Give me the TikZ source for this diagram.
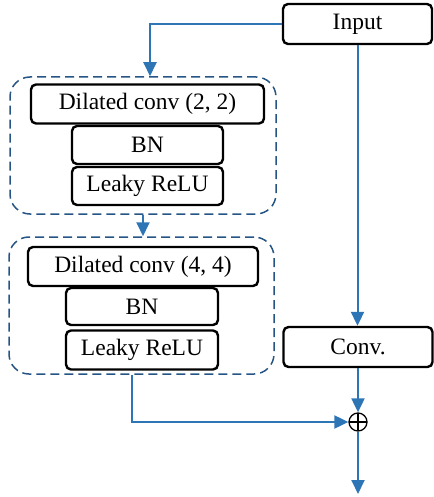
\documentclass[tikz,border=0pt]{standalone}
\usepackage{fontspec}
\setmainfont{Liberation Serif}
\usetikzlibrary{arrows.meta}
\definecolor{lineblue}{RGB}{46,117,182}
\definecolor{dashblue}{RGB}{38,84,132}
\begin{document}
\begin{tikzpicture}[x=1pt, y=-1pt,
  blk/.style={draw, line width=2.4pt, rounded corners=5pt, inner sep=0pt,
              minimum height=39pt, font=\fontsize{23.5}{28}\selectfont},
  grp/.style={draw=dashblue, dashed, dash pattern=on 9pt off 5pt, line width=1.5pt,
              rounded corners=20pt, inner sep=0pt},
  flow/.style={draw=lineblue, line width=2pt, -{Triangle[length=14pt, width=13pt]}}]
  \useasboundingbox (0,0) rectangle (433,497);
  % dilated block 1
  \node[grp, minimum width=266pt, minimum height=137pt] (grpa) at (143,145.5) {};
  \node[blk, minimum width=233pt] (dila) at (147.5,104) {Dilated conv (2, 2)};
  \node[blk, minimum width=151pt, minimum height=38pt] (bna) at (147.5,145) {BN};
  \node[blk, minimum width=151pt, minimum height=38pt] (relua) at (147.5,186) {Leaky ReLU};
  % dilated block 2
  \node[grp, minimum width=265pt, minimum height=137pt] (grpb) at (141.5,305.5) {};
  \node[blk, minimum width=230pt] (dilb) at (143,266.5) {Dilated conv (4, 4)};
  \node[blk, minimum width=152pt, minimum height=37pt] (bnb) at (142,306.5) {BN};
  \node[blk, minimum width=152pt] (relub) at (142,350) {Leaky ReLU};
  % shortcut column
  \node[blk, minimum width=149pt, minimum height=40pt] (input) at (357.5,24) {Input};
  \node[blk, minimum width=149pt, minimum height=40pt] (conv) at (358,347) {Conv.};
  \node[draw, circle, line width=1.3pt, minimum size=18pt, inner sep=0pt,
        path picture={\draw[line width=1.3pt]
          (path picture bounding box.north) -- (path picture bounding box.south)
          (path picture bounding box.west) -- (path picture bounding box.east);}]
        (add) at (358,422) {};
  \coordinate (out) at (358,494);
  \draw[flow] (input.west) -| ([xshift=7pt]grpa.north);
  \draw[flow] (grpa.south) -- (grpa.south |- grpb.north);
  \draw[flow] (input.south) -- (input.south |- conv.north);
  \draw[flow] ([xshift=-9.5pt]grpb.south) |- (add.west);
  \draw[flow] (conv.south) -- (conv.south |- add.north);
  \draw[flow] (add.south) -- (add.south |- out);
\end{tikzpicture}
\end{document}
